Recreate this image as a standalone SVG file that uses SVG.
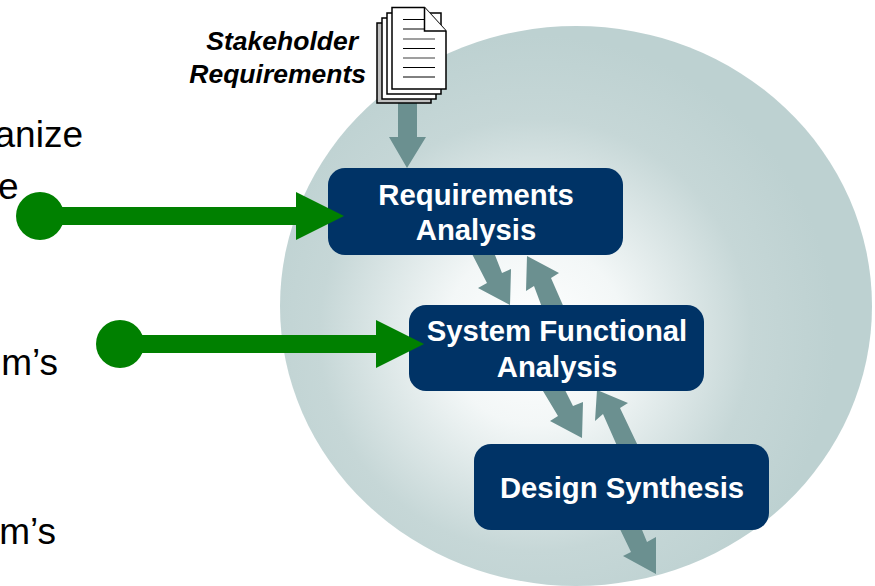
<svg xmlns="http://www.w3.org/2000/svg" width="875" height="586" viewBox="0 0 875 586">
<style>
text{font-family:"Liberation Sans",Arial,sans-serif}
.b{font-size:29.300px;font-weight:bold;fill:#fff;text-anchor:middle}
.s{font-size:26.500px;font-weight:bold;font-style:italic;fill:#000;text-anchor:end}
.l{font-size:37px;fill:#000;text-anchor:end}
.box{fill:#003366}
.fl{fill:#6b9090}
.g{fill:#008000}
.pg{stroke:#000;stroke-width:1.5}
.ln{stroke:#000;stroke-width:1}
.lg{stroke:#808080;stroke-width:1.5}
</style>
<defs>
<radialGradient id="bg" gradientUnits="userSpaceOnUse" cx="535" cy="335" r="300">
<stop offset="0" stop-color="#fff"/><stop offset="0.3" stop-color="#f3f7f7"/><stop offset="0.72" stop-color="#c6d7d7"/><stop offset="1" stop-color="#bdd1d1"/>
</radialGradient>
</defs>
<rect width="875" height="586" fill="#fff"/>
<ellipse cx="576" cy="306" rx="296" ry="280" fill="url(#bg)"/>
<text class="l" x="83" y="147">anize</text>
<text class="l" x="18.500" y="199">e</text>
<text class="l" x="58" y="375">m’s</text>
<text class="l" x="56" y="544">m’s</text>
<g id="connectors">
<polygon class="fl" points="398,100 417,100 417,137 426,137 407,168 389,137 398,137"/>
<polygon class="fl" points="470,250 493,250 502,273 511,269 510,305 478,288 487,283"/>
<polygon class="fl" points="527,256 559,273 551,278 565,310 543,310 534,286 526,291"/>
<polygon class="fl" points="540,386 563,386 573,406 583,402 582,438 550,421 558,416"/>
<polygon class="fl" points="597,390 628,403 620,408 639,448 618,448 603,414 595,421"/>
<polygon class="fl" points="618,525 640,525 647,542 656,537 656,574 623,556 631,552"/>
</g>
<g id="stakeholder-requirements">
<text class="s" x="358" y="50">Stakeholder</text>
<text class="s" x="366" y="83">Requirements</text>
<rect class="pg" fill="#c0c0c0" x="377" y="23" width="54" height="80"/>
<rect class="pg" fill="#fff" x="382" y="18" width="54" height="81"/>
<rect class="pg" fill="#fff" x="387" y="13" width="54" height="81"/>
<path class="pg" fill="#fff" d="M392,7.500H424.500L446,31V89H392Z"/>
<path class="pg" fill="#fff" d="M424.500,7.500V31H446"/>
<path class="ln" d="M403,19.500H424M403,29H424M403,48.500H435M403,67.500H435M403,77H435"/>
<path class="lg" d="M403,39H435M403,58H435"/>
</g>
<g id="requirements-analysis"><rect class="box" x="328" y="168" width="295" height="87" rx="17"/><text class="b" x="476" y="205">Requirements</text><text class="b" x="476" y="240">Analysis</text></g>
<g id="system-functional-analysis"><rect class="box" x="409" y="305" width="295" height="86" rx="17"/><text class="b" x="557" y="341">System Functional</text><text class="b" x="557" y="377">Analysis</text></g>
<g id="design-synthesis"><rect class="box" x="474" y="444" width="295" height="86" rx="17"/><text class="b" x="622" y="498">Design Synthesis</text></g>
<g id="green-connectors">
<g class="g"><circle cx="40" cy="216" r="24"/><polygon points="40,207 296,207 296,192 344,216 296,240 296,225 40,225"/></g>
<g class="g"><circle cx="120" cy="344" r="24"/><polygon points="120,335 376,335 376,320 424,344 376,368 376,353 120,353"/></g>
</g>
</svg>
